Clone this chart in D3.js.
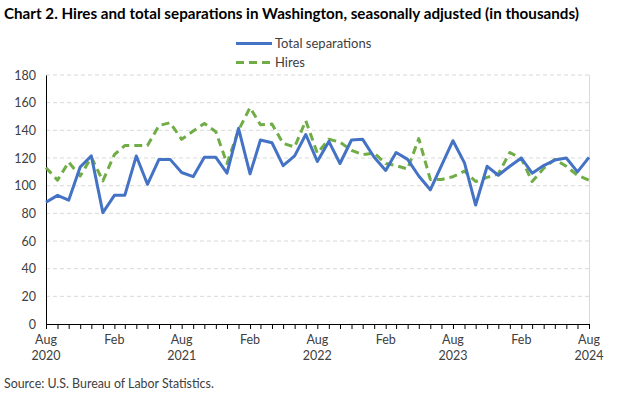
<!DOCTYPE html>
<html>
<head>
<meta charset="utf-8">
<script src="https://cdn.jsdelivr.net/npm/d3@7.9.0/dist/d3.min.js"></script>
<style>
  body { margin: 0; background: #fff; }
  svg { font-family: Lato, "Open Sans", sans-serif; }
</style>
</head>
<body>
<svg id="chart" width="624" height="394"></svg>
<script>
// Monthly data, Aug 2020 - Aug 2024 (thousands)
const months = d3.range(49).map(i => new Date(2020, 7 + i, 1));

const separations = [88, 93, 89.5, 113.5, 121.5, 80.5, 93, 93, 121.5, 101, 119, 119,
  109.5, 106.5, 120.5, 120.5, 109, 141.5, 108.5, 133, 131, 114.5, 121.5, 137,
  117.5, 132, 116, 133, 133.5, 120.5, 111, 124, 119, 107, 97, 114.5,
  132.5, 116.5, 86, 114, 107.5, 114, 120, 109, 114.5, 118.5, 120, 110, 120.5];

const hires = [113, 104, 117, 107, 120.5, 103.5, 122.5, 129, 129, 129, 143.5, 145.5,
  133.5, 139.5, 145, 139, 116, 140, 156.5, 144, 144.5, 130.5, 128, 147,
  123.5, 133.5, 131.5, 125.5, 122.5, 123.5, 116, 114.5, 112, 134, 104.5, 104.5,
  106.5, 110.5, 103, 106, 108.5, 124, 119.5, 103, 112.5, 119, 114, 107.5, 104];

const yTicks = [0, 20, 40, 60, 80, 100, 120, 140, 160, 180];

const series = [
  { name: 'Total separations', values: separations, color: '#4472C4', dash: null },
  { name: 'Hires', values: hires, color: '#70AD47', dash: '8,5' }
];

const svg = d3.select('#chart');
const plotLeft = 46, plotRight = 589, plotTop = 75, plotBottom = 324;

const x = d3.scaleTime()
  .domain([months[0], months[months.length - 1]])
  .range([plotLeft, plotRight]);
const y = d3.scaleLinear().domain([0, 180]).range([plotBottom, plotTop]);

// title
svg.append('text')
  .attr('x', 4).attr('y', 19)
  .attr('font-size', 15.2).attr('font-weight', 'bold').attr('fill', '#000')
  .text('Chart 2. Hires and total separations in Washington, seasonally adjusted (in thousands)');

// gridlines
svg.append('g')
  .selectAll('line')
  .data(yTicks.filter(d => d > 0))
  .join('line')
  .attr('x1', plotLeft).attr('x2', plotRight)
  .attr('y1', d => y(d)).attr('y2', d => y(d))
  .attr('stroke', '#d9d9d9').attr('stroke-width', 1)
  .attr('stroke-dasharray', '4,3');

// right border
svg.append('line')
  .attr('x1', plotRight + 0.5).attr('x2', plotRight + 0.5)
  .attr('y1', plotTop).attr('y2', plotBottom)
  .attr('stroke', '#d9d9d9');

// y axis
const yAxis = svg.append('g')
  .attr('transform', `translate(${plotLeft},0)`)
  .call(d3.axisLeft(y).tickValues(yTicks).tickSize(0).tickPadding(10));
yAxis.select('.domain').attr('stroke', '#000');
yAxis.selectAll('text').attr('font-size', 12.5).attr('fill', '#404040')
  .attr('font-family', 'Lato, sans-serif');

// x axis with monthly ticks
const xAxis = svg.append('g')
  .attr('transform', `translate(0,${plotBottom})`)
  .call(d3.axisBottom(x).tickValues(months).tickSize(5).tickFormat(''));
xAxis.select('.domain').attr('stroke', '#000');
xAxis.selectAll('.tick line').attr('stroke', '#000');

// x labels
const labelMonths = months.filter((d, i) => i % 6 === 0);
const xl = svg.append('g').selectAll('text')
  .data(labelMonths)
  .join('text')
  .attr('x', d => x(d))
  .attr('text-anchor', 'middle')
  .attr('font-size', 12.5).attr('fill', '#404040');
xl.append('tspan').attr('x', d => x(d)).attr('y', 344)
  .text(d => d3.timeFormat('%b')(d));
xl.append('tspan').attr('x', d => x(d)).attr('y', 360)
  .text(d => d.getMonth() === 7 ? d.getFullYear() : '');

// lines
const line = d3.line()
  .x((d, i) => x(months[i]))
  .y(d => y(d));

svg.append('g')
  .selectAll('path')
  .data(series.slice().reverse())
  .join('path')
  .attr('d', d => line(d.values))
  .attr('fill', 'none')
  .attr('stroke', d => d.color)
  .attr('stroke-width', 3)
  .attr('stroke-dasharray', d => d.dash)
  .attr('stroke-linejoin', 'round');

// legend
const legend = svg.append('g');
series.forEach((s, i) => {
  const ly = 43.5 + i * 19;
  legend.append('line')
    .attr('x1', 236).attr('x2', 272)
    .attr('y1', ly).attr('y2', ly)
    .attr('stroke', s.color).attr('stroke-width', 3)
    .attr('stroke-dasharray', s.dash);
  legend.append('text')
    .attr('x', 275).attr('y', ly + 4.5)
    .attr('font-size', 13).attr('fill', '#404040')
    .text(s.name);
});

// source
svg.append('text')
  .attr('x', 4).attr('y', 388)
  .attr('font-size', 12.4).attr('fill', '#404040')
  .text('Source: U.S. Bureau of Labor Statistics.');
</script>
</body>
</html>
